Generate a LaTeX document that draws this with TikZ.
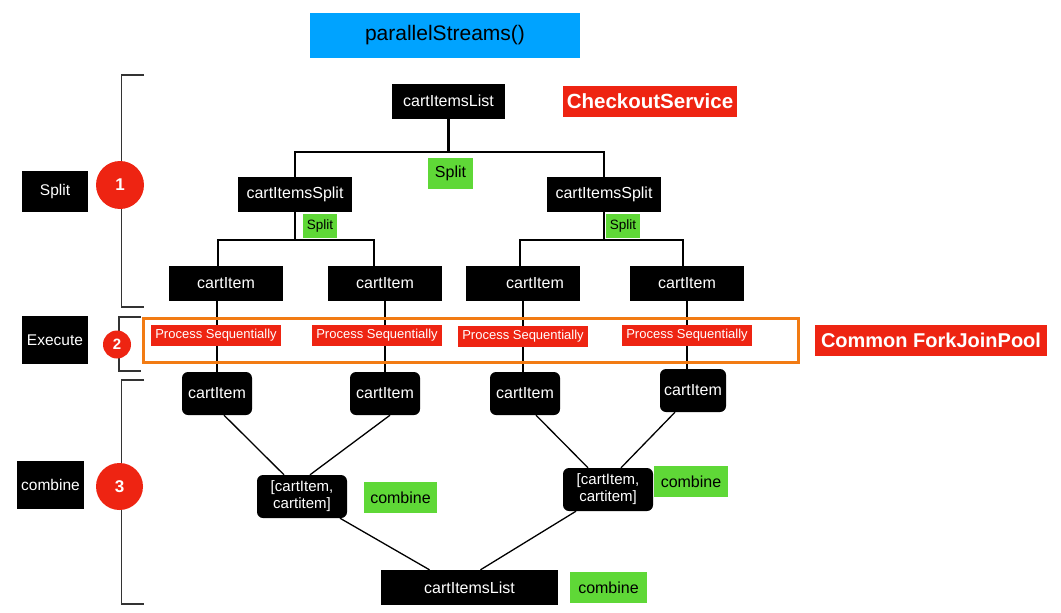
\documentclass[tikz,border=0pt]{standalone}
\usepackage{fontspec}
\setmainfont{Liberation Sans}
\usetikzlibrary{positioning}
\definecolor{tagred}{HTML}{EE2412}
\definecolor{splitgreen}{HTML}{5FD837}
\definecolor{titleblue}{HTML}{00A3FF}
\definecolor{poolorange}{HTML}{F27B13}
\newcommand{\fs}[1]{\fontsize{#1}{#1}\selectfont}
\tikzset{
  blk/.style={fill=black, text=white, inner sep=0pt, font=\fs{16}},
  rblk/.style={blk, rounded corners=6pt},
  grn/.style={fill=splitgreen, text=black, inner sep=0pt, font=\fs{16}},
  redtag/.style={fill=tagred, text=white, inner sep=0pt},
  num/.style={circle, fill=tagred, text=white, inner sep=0pt, font=\bfseries\fs{17}},
  tree/.style={line width=2.8pt},
  diag/.style={line width=1.3pt},
  brk/.style={line width=1.4pt, draw=black!80}
}

\begin{document}
\begin{tikzpicture}[x=1pt, y=-1pt]
  \useasboundingbox (0,0) rectangle (1061,613);
  % title and service
  \node[fill=titleblue, inner sep=0pt, minimum width=270, minimum height=45, font=\fs{21}] (title) at (445,35.5) {parallelStreams()};
  \node[blk, minimum width=113, minimum height=35] (list) at (448.5,101) {cartItemsList};
  \node[redtag, minimum width=174, minimum height=31, font=\bfseries\fs{20.5}] (service) at (650,101.5) {CheckoutService};

  % split
  \node[blk, minimum width=114, minimum height=35] (splitL) at (295,194.5) {cartItemsSplit};
  \node[blk, minimum width=114, minimum height=35] (splitR) at (604,194.5) {cartItemsSplit};
  \node[grn, minimum width=45, minimum height=31] (splitTop) at (450.5,173.5) {Split};
  \node[grn, minimum width=34, minimum height=24, font=\fs{13.5}] (splitSL) at (320,226) {Split};
  \node[grn, minimum width=34, minimum height=24, font=\fs{13.5}] (splitSR) at (623,226) {Split};

  \node[blk, minimum width=114, minimum height=35] (c1a) at (226,283.5) {cartItem};
  \node[blk, minimum width=114, minimum height=35] (c1b) at (385,283.5) {cartItem};
  \node[blk, minimum width=114, minimum height=35] (c1c) at (523,283.5) {\hspace*{24pt}cartItem};
  \node[blk, minimum width=114, minimum height=35] (c1d) at (687,283.5) {cartItem};

  \coordinate (jT) at (448.5,152);
  \coordinate (jL) at (295,240);
  \coordinate (jR) at (604,240);
  \draw[tree] (list.south) -- (jT);
  \draw[tree] (splitL.north) |- (jT) -| (splitR.north);
  \draw[tree] (splitL.south) -- (jL);
  \draw[tree] ([xshift=-8]c1a.north) |- (jL) -| ([xshift=-11]c1b.north);
  \draw[tree] (splitR.south) -- (jR);
  \draw[tree] ([xshift=-3]c1c.north) |- (jR) -| ([xshift=-4]c1d.north);

  % execute
  \node[rblk, minimum width=70, minimum height=43] (c2a) at (217,393.5) {cartItem};
  \node[rblk, minimum width=70, minimum height=43] (c2b) at (385,393.5) {cartItem};
  \node[rblk, minimum width=70, minimum height=43] (c2c) at (525,393.5) {cartItem};
  \node[rblk, minimum width=66, minimum height=43] (c2d) at (693,390.5) {cartItem};

  \draw[tree] (c2a.north) -- (c2a.north |- c1a.south);
  \draw[tree] (c1b.south) -- (c1b.south |- c2b.north);
  \draw[tree] (c1c.south) -- (c1c.south |- c2c.north);
  \draw[tree] (c1d.south) -- (c1d.south |- c2d.north);

  \node[draw=poolorange, line width=3pt, inner sep=0pt, minimum width=655, minimum height=44] (pool) at (470.5,340) {};
  \foreach \n/\x/\y in {p1/216/335.5, p2/377/335.5, p3/523/336.5, p4/687/335}
    \node[redtag, minimum width=130, minimum height=21, font=\fs{13}] (\n) at (\x,\y) {Process Sequentially};
  \node[redtag, minimum width=232, minimum height=31, font=\bfseries\fs{20}] (poolname) at (931,340.5) {Common ForkJoinPool};

  % combine
  \node[rblk, minimum width=90, minimum height=43, align=center, font=\fontsize{15}{17}\selectfont] (m1) at (302,496.5) {[cartItem,\\cartitem]};
  \node[rblk, minimum width=90, minimum height=43, align=center, font=\fontsize{15}{17}\selectfont] (m2) at (608,489.5) {[cartItem,\\cartitem]};
  \node[blk, minimum width=177, minimum height=35] (list2) at (469.5,587.5) {cartItemsList};
  \node[grn, minimum width=73, minimum height=31] (comb1) at (400.5,497.5) {combine};
  \node[grn, minimum width=74, minimum height=31] (comb2) at (691,481.5) {combine};
  \node[grn, minimum width=77, minimum height=31] (comb3) at (608.5,587.5) {combine};

  \draw[diag] ([xshift=7]c2a.south) -- ([xshift=-18]m1.north);
  \draw[diag] ([xshift=5]c2b.south) -- ([xshift=8]m1.north);
  \draw[diag] ([xshift=11]c2c.south) -- ([xshift=-20]m2.north);
  \draw[diag] ([xshift=-18]c2d.south) -- ([xshift=13]m2.north);
  \draw[diag] ([xshift=38]m1.south) -- ([xshift=-40]list2.north);
  \draw[diag] ([xshift=-32]m2.south) -- ([xshift=11]list2.north);

  % phases
  \draw[brk] (144,75) -| (121.5,307) -- (144,307);
  \draw[brk] (141,317) -| (119,371) -- (141,371);
  \draw[brk] (144,380) -| (121.5,604) -- (144,604);
  \node[num, minimum size=48] (n1) at (120,185) {1};
  \node[num, minimum size=28, font=\bfseries\fs{15}] (n2) at (117,344.5) {2};
  \node[num, minimum size=47] (n3) at (119.5,486.5) {3};
  \node[blk, minimum width=66, minimum height=41, font=\fs{15.5}] (phSplit) at (55,191.5) {Split};
  \node[blk, minimum width=66, minimum height=48, font=\fs{15.5}] (phExec) at (55,340) {Execute};
  \node[blk, minimum width=67, minimum height=48, font=\fs{15.5}] (phComb) at (50.5,485) {combine};
\end{tikzpicture}
\end{document}
